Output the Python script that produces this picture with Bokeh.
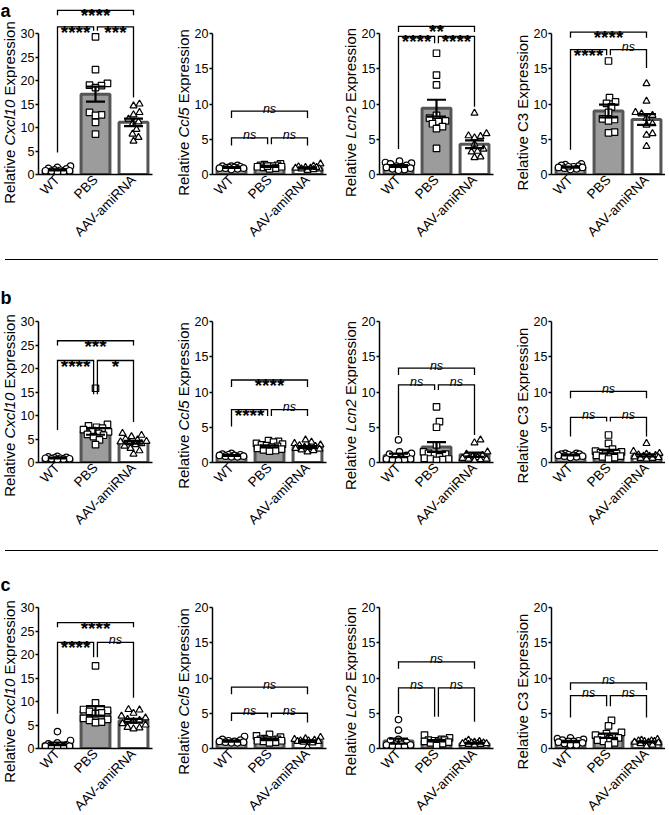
import math
from bokeh.plotting import figure
from bokeh.models import ColumnDataSource, FactorRange, Range1d, FixedTicker, Div
from bokeh.layouts import column, row
from bokeh.embed import file_html
from bokeh.resources import INLINE
from bokeh.core.properties import value

# ---------------- data ----------------
groups = ["WT", "PBS", "AAV-amiRNA"]
row_letters = ["a", "b", "c"]
genes = ["Cxcl10", "Ccl5", "Lcn2", "C3"]
gene_italic = [True, True, True, False]
axis_max = [30, 20, 20, 20]

# row a
a_cxcl10_wt = [1.8, 1.5, 1.3, 1.2, 1.0, 0.9, 0.8, 0.8, 0.7, 0.6, 0.5]
a_cxcl10_pbs = [29.3, 22.3, 19.4, 19.0, 18.9, 18.5, 13.2, 12.7, 12.6, 11.1, 8.6]
a_cxcl10_aav = [15.0, 14.6, 13.2, 12.7, 11.8, 11.2, 10.7, 9.6, 8.6, 7.9, 7.1]
a_cxcl10_mean = [1.0, 17.1, 11.1]
a_cxcl10_sem = [0.12, 1.6, 0.8]
a_cxcl10_sig = [(0, 2, 34.9, 33.9, 33.9, "****"), (0, 1, 31.4, 4.7, 30.6, "****"), (1, 2, 31.4, 30.6, 16.4, "***")]

a_ccl5_wt = [1.3, 1.2, 1.2, 1.1, 1.0, 1.0, 0.9, 0.9, 0.8, 0.7, 0.9]
a_ccl5_pbs = [1.5, 1.4, 1.3, 1.3, 1.2, 1.1, 1.1, 1.0, 0.9, 0.8, 1.2]
a_ccl5_aav = [1.5, 1.2, 1.1, 1.0, 0.9, 0.9, 0.8, 0.8, 0.7, 0.6, 1.0]
a_ccl5_mean = [1.0, 1.15, 0.92]
a_ccl5_sem = [0.06, 0.07, 0.08]
a_ccl5_sig = [(0, 2, 9.0, 8.0, 8.0, "ns"), (0, 1, 5.2, 4.1, 4.3, "ns"), (1, 2, 5.2, 4.3, 4.1, "ns")]

a_lcn2_wt = [1.9, 1.7, 1.6, 1.5, 1.3, 1.2, 1.1, 1.0, 0.9, 0.8, 0.7, 0.6]
a_lcn2_pbs = [17.2, 14.1, 12.7, 8.4, 8.0, 7.6, 7.5, 7.2, 6.8, 6.5, 3.7]
a_lcn2_aav = [8.7, 5.8, 5.5, 5.4, 5.2, 4.3, 3.6, 3.3, 3.2, 2.5, 2.4]
a_lcn2_mean = [1.2, 9.4, 4.3]
a_lcn2_sem = [0.12, 1.2, 0.55]
a_lcn2_sig = [(0, 2, 21.0, 20.2, 20.2, "**"), (0, 1, 19.6, 3.6, 18.6, "****"), (1, 2, 19.6, 18.6, 9.6, "****")]

a_c3_wt = [1.5, 1.4, 1.3, 1.2, 1.1, 1.0, 1.0, 0.9, 0.8, 0.7, 1.1]
a_c3_pbs = [16.1, 10.9, 10.3, 10.1, 9.6, 8.8, 7.9, 7.8, 7.6, 6.0, 5.9]
a_c3_aav = [12.9, 10.4, 8.8, 8.6, 8.4, 8.0, 7.2, 7.0, 5.8, 5.6, 4.0]
a_c3_mean = [1.05, 9.0, 7.8]
a_c3_sem = [0.08, 0.9, 0.75]
a_c3_sig = [(0, 2, 20.2, 19.4, 19.4, "****"), (0, 1, 17.7, 3.5, 16.9, "****"), (1, 2, 17.7, 16.9, 15.1, "ns")]

# row b
b_cxcl10_wt = [1.3, 1.2, 1.1, 1.0, 0.9, 0.9, 0.8, 0.8, 0.7, 0.6]
b_cxcl10_pbs = [15.8, 8.1, 7.8, 7.5, 7.3, 7.0, 6.8, 6.5, 6.2, 6.0, 5.8, 5.5, 4.8, 3.8]
b_cxcl10_aav = [6.2, 5.8, 5.5, 5.0, 4.8, 4.5, 4.4, 4.2, 4.0, 3.8, 3.5, 3.0, 2.5, 1.8]
b_cxcl10_mean = [0.95, 6.6, 4.3]
b_cxcl10_sem = [0.08, 0.7, 0.3]
b_cxcl10_sig = [(0, 2, 25.9, 24.9, 24.9, "***"), (0, 1, 21.7, 6.9, 14.5, "****"), (1, 2, 21.7, 14.5, 8.6, "*")]

b_ccl5_wt = [1.3, 1.2, 1.1, 1.1, 1.0, 1.0, 0.9, 0.9, 0.8, 0.8]
b_ccl5_pbs = [3.1, 3.0, 2.9, 2.7, 2.6, 2.5, 2.4, 2.3, 2.2, 2.0, 1.9, 1.8, 1.7, 1.6]
b_ccl5_aav = [3.2, 2.9, 2.7, 2.5, 2.4, 2.3, 2.2, 2.1, 2.0, 1.9, 1.8, 1.7, 1.5]
b_ccl5_mean = [1.0, 2.3, 2.2]
b_ccl5_sem = [0.05, 0.15, 0.12]
b_ccl5_sig = [(0, 2, 11.7, 10.7, 10.7, "****"), (0, 1, 7.5, 5.1, 6.6, "****"), (1, 2, 7.5, 6.6, 6.6, "ns")]

b_lcn2_wt = [3.2, 1.5, 1.3, 1.2, 1.0, 0.8, 0.6, 0.5, 0.5, 0.4, 0.4, 0.3]
b_lcn2_pbs = [7.9, 5.8, 5.0, 2.5, 1.5, 1.3, 1.2, 1.0, 0.8, 0.6, 0.5, 0.5, 0.4, 0.3]
b_lcn2_aav = [3.2, 2.8, 1.5, 1.2, 1.0, 0.8, 0.7, 0.6, 0.5, 0.5, 0.4, 0.3]
b_lcn2_mean = [1.0, 2.2, 1.1]
b_lcn2_sem = [0.25, 0.7, 0.3]
b_lcn2_sig = [(0, 2, 13.4, 12.4, 12.4, "ns"), (0, 1, 11.0, 3.9, 10.3, "ns"), (1, 2, 11.0, 10.3, 3.9, "ns")]

b_c3_wt = [1.3, 1.3, 1.2, 1.2, 1.1, 1.0, 1.0, 0.9, 0.9, 0.8, 0.7]
b_c3_pbs = [3.9, 2.7, 1.9, 1.6, 1.5, 1.4, 1.3, 1.2, 1.1, 1.0, 0.9, 0.8, 0.7, 0.5]
b_c3_aav = [2.7, 1.6, 1.3, 1.2, 1.1, 1.0, 0.9, 0.9, 0.8, 0.7, 0.6, 0.6, 0.5]
b_c3_mean = [1.05, 1.55, 1.0]
b_c3_sem = [0.06, 0.25, 0.15]
b_c3_sig = [(0, 2, 10.1, 9.1, 9.1, "ns"), (0, 1, 6.4, 3.7, 5.8, "ns"), (1, 2, 6.4, 5.8, 3.7, "ns")]

# row c
c_cxcl10_wt = [3.6, 1.7, 1.2, 1.0, 0.8, 0.6, 0.6, 0.5, 0.5, 0.4, 0.4, 0.3]
c_cxcl10_pbs = [17.6, 9.7, 8.3, 8.1, 7.9, 7.6, 7.4, 6.4, 6.2, 6.0, 5.6, 5.5]
c_cxcl10_aav = [8.3, 8.2, 7.5, 6.9, 6.5, 6.2, 6.0, 5.8, 5.3, 5.0, 4.5, 4.4, 4.2]
c_cxcl10_mean = [1.0, 8.0, 5.9]
c_cxcl10_sem = [0.28, 1.0, 0.4]
c_cxcl10_sig = [(0, 2, 26.8, 25.8, 25.8, "****"), (0, 1, 22.6, 7.4, 19.4, "****"), (1, 2, 22.6, 19.4, 10.8, "ns")]

c_ccl5_wt = [1.7, 1.3, 1.2, 1.1, 1.0, 1.0, 0.9, 0.9, 0.8, 0.8]
c_ccl5_pbs = [2.0, 1.8, 1.6, 1.4, 1.3, 1.3, 1.2, 1.2, 1.1, 1.1, 1.0, 0.9, 0.8]
c_ccl5_aav = [1.6, 1.4, 1.3, 1.2, 1.1, 1.1, 1.0, 1.0, 0.9, 0.8, 0.2]
c_ccl5_mean = [1.05, 1.3, 1.05]
c_ccl5_sem = [0.08, 0.1, 0.1]
c_ccl5_sig = [(0, 2, 8.7, 7.7, 7.7, "ns"), (0, 1, 5.0, 3.9, 4.4, "ns"), (1, 2, 5.0, 4.4, 3.7, "ns")]

c_lcn2_wt = [4.1, 2.6, 1.3, 1.1, 0.9, 0.6, 0.6, 0.5, 0.5, 0.4, 0.3, 0.3]
c_lcn2_pbs = [1.9, 1.5, 1.3, 1.2, 1.2, 1.1, 1.0, 1.0, 0.9, 0.8, 0.7, 0.4]
c_lcn2_aav = [1.2, 1.0, 0.9, 0.9, 0.8, 0.8, 0.7, 0.7, 0.7, 0.6, 0.6, 0.5]
c_lcn2_mean = [1.05, 1.1, 0.75]
c_lcn2_sem = [0.35, 0.1, 0.06]
c_lcn2_sig = [(0, 2, 12.3, 11.3, 11.3, "ns"), (0, 1, 8.6, 4.9, 4.5, "ns"), (1, 2, 8.6, 4.5, 3.8, "ns")]

c_c3_wt = [1.5, 1.4, 1.3, 1.2, 1.1, 1.0, 1.0, 0.9, 0.8, 0.7, 0.5, 0.5]
c_c3_pbs = [4.0, 3.2, 2.3, 2.1, 1.9, 1.7, 1.6, 1.5, 1.4, 1.2, 1.0, 0.8, 0.5]
c_c3_aav = [1.3, 1.2, 1.1, 1.1, 1.0, 1.0, 0.9, 0.9, 0.8, 0.7, 0.5, 0.3]
c_c3_mean = [1.0, 1.8, 0.95]
c_c3_sem = [0.09, 0.3, 0.08]
c_c3_sig = [(0, 2, 9.3, 8.3, 8.3, "ns"), (0, 1, 7.5, 4.4, 6.0, "ns"), (1, 2, 7.5, 6.0, 4.4, "ns")]

# ---------------- style / geometry ----------------
FONT = "Liberation Sans"
AXIS_PX = 141          # pixel length of the y axis (0 .. axis max)
FRAME_W = 114
PANEL_LEFT = 18
ROW_GEOM = {"a": (174, 0, 80), "b": (192, 5, 83), "c": (187, 5, 71)}   # frame_h, top, bottom
COL_GEOM = [(17, 18), (21, 12), (20, 16), (21, 0)]                     # label strip width, right border
LETTER_DROP = {"a": 0, "b": 17, "c": 13}
BAR_FILLS = ["#a6a6a6", "#9c9c9c", "#ffffff"]
BAR_LINE = "#555555"
MARKERS = ["circle", "square", "triangle"]

ARIAL_W = {'R': .722, 'e': .556, 'l': .222, 'a': .556, 't': .278, 'i': .222, 'v': .5, ' ': .278,
           'C': .722, 'x': .5, 'c': .5, '1': .556, '0': .556, '5': .556, 'L': .556, 'n': .556,
           '2': .556, '3': .556, 'E': .667, 'p': .556, 'r': .333, 's': .5, 'o': .556}
YL_SIZE = 15.0
YL_CENTER = 62


def text_w(s):
    return sum(ARIAL_W.get(ch, 0.55) for ch in s) * YL_SIZE


def swarm(vals, ppu_y, ppu_x, d=6.0, half=13.0):
    order = sorted(range(len(vals)), key=lambda i: vals[i])
    cands = [0.0]
    for k in range(1, int(half) + 1):
        cands += [float(k), float(-k)]
    placed, res = [], [0.0] * len(vals)
    for i in order:
        y = vals[i] * ppu_y
        best, best_gap = 0.0, -1.0
        for c in cands:
            gap = min((math.hypot(c - px, y - py) for px, py in placed), default=1e9)
            if gap >= d:
                best = c
                break
            if gap > best_gap:
                best_gap, best = gap, c
        placed.append((best, y))
        res[i] = best / ppu_x
    return res


def make_label_strip(letter, ci):
    frame_h, btop, bbot = ROW_GEOM[letter]
    H = frame_h + btop + bbot
    W = COL_GEOM[ci][0]
    p = figure(width=W, height=H, x_range=Range1d(0, W), y_range=Range1d(0, H),
               frame_width=W, frame_height=H, min_border_left=0, min_border_right=0,
               min_border_top=0, min_border_bottom=0, x_axis_type=None, y_axis_type=None,
               output_backend="svg", toolbar_location=None, tools="")
    p.xgrid.visible = False
    p.ygrid.visible = False
    p.outline_line_color = None
    gene = genes[ci]
    full = "Relative " + gene + " Expression"
    start = bbot + YL_CENTER - text_w(full) / 2
    segs = ["Relative", gene, "Expression"]
    styles = ["normal", "italic" if gene_italic[ci] else "normal", "normal"]
    pos = [0.0, text_w("Relative "), text_w("Relative " + gene + " ")]
    for s, st, o in zip(segs, styles, pos):
        p.text([W - 8.5], [start + o + text_w(s) / 2], text=[s], angle=math.pi / 2,
               text_align="center", text_baseline="middle", text_font=value(FONT),
               text_font_size=f"{YL_SIZE}px", text_font_style=st, text_color="black")
    if ci == 0:
        p.text([0], [H - LETTER_DROP[letter]], text=[letter], text_align="left", text_baseline="top",
               text_font=value(FONT), text_font_size="18px", text_font_style="bold", text_color="black")
    return p


def make_panel(letter, ci):
    key = f"{letter}_{genes[ci].lower()}"
    g = globals()
    pts = [g[key + "_wt"], g[key + "_pbs"], g[key + "_aav"]]
    mean, sem, sig = g[key + "_mean"], g[key + "_sem"], g[key + "_sig"]
    frame_h, btop, bbot = ROW_GEOM[letter]
    ymax = axis_max[ci]
    ppu = AXIS_PX / ymax
    br = COL_GEOM[ci][1]
    p = figure(x_range=FactorRange(*groups), y_range=Range1d(0, frame_h / ppu),
               frame_width=FRAME_W, frame_height=frame_h,
               min_border_left=PANEL_LEFT, min_border_right=br, min_border_top=btop, min_border_bottom=bbot,
               output_backend="svg", toolbar_location=None, tools="")
    p.xgrid.visible = False
    p.ygrid.visible = False
    p.outline_line_color = None

    ya = p.yaxis[0]
    ya.ticker = FixedTicker(ticks=list(range(0, ymax + 1, 5)))
    ya.bounds = (0, ymax)
    ya.major_tick_out = 3
    ya.major_tick_in = 0
    ya.minor_tick_out = 0
    ya.minor_tick_in = 0
    ya.axis_line_width = 1.5
    ya.major_tick_line_width = 1.5
    ya.major_label_text_font = FONT
    ya.major_label_text_font_size = "12.5px"
    ya.major_label_text_color = "black"
    ya.major_label_standoff = 1

    xa = p.xaxis[0]
    xa.major_label_orientation = math.pi / 4
    xa.major_tick_out = 0
    xa.major_tick_in = 0
    xa.axis_line_width = 1.5
    xa.major_label_text_font = FONT
    xa.major_label_text_font_size = "13.5px"
    xa.major_label_text_color = "black"
    xa.major_label_standoff = 3

    # bars (mean)
    p.vbar(x="x", top="top", width=0.76, fill_color="fill", line_color=BAR_LINE, line_width=3,
           source=ColumnDataSource(dict(x=groups, top=mean, fill=BAR_FILLS)))

    # individual points
    ppu_x = FRAME_W / 3.0
    for gi in range(3):
        offs = swarm(pts[gi], ppu, ppu_x)
        xs = [gi + 0.5 + o for o in offs]
        p.scatter(xs, pts[gi], marker=MARKERS[gi], size=6.5 if gi < 2 else 7,
                  fill_color="white", line_color="black", line_width=1.2)

    # mean +- SEM error bars
    cx = [gi + 0.5 for gi in range(3)]
    lo = [m - s for m, s in zip(mean, sem)]
    hi = [m + s for m, s in zip(mean, sem)]
    cw = 0.25
    p.segment(cx, lo, cx, hi, line_color="black", line_width=2.2)
    p.segment([c - cw for c in cx], hi, [c + cw for c in cx], hi, line_color="black", line_width=2.2)
    p.segment([c - cw for c in cx], lo, [c + cw for c in cx], lo, line_color="black", line_width=2.2)

    # significance brackets
    gap = 0.05
    bx, by = [], []
    tx_s, ty_s, tt_s, tx_n, ty_n, tt_n = [], [], [], [], [], []
    for (i, j, yb, yl, yr, lab) in sig:
        xl = i + 0.5 + (gap if i == 1 else 0)
        xr = j + 0.5 - (gap if j == 1 else 0)
        bx.append([xl, xl, xr, xr])
        by.append([yl, yb, yb, yr])
        if lab == "ns":
            tx_n.append((xl + xr) / 2); ty_n.append(yb); tt_n.append(lab)
        else:
            tx_s.append((xl + xr) / 2); ty_s.append(yb); tt_s.append(lab)
    p.multi_line(bx, by, line_color="black", line_width=1.3, line_join="miter")
    if tt_s:
        p.text(tx_s, ty_s, text=tt_s, text_font=value(FONT), text_font_size="19px",
               text_font_style="bold", text_align="center", text_baseline="alphabetic",
               y_offset=5.5, text_color="black")
    if tt_n:
        p.text(tx_n, ty_n, text=tt_n, text_font=value(FONT), text_font_size="12.5px",
               text_font_style="italic", text_align="center", text_baseline="alphabetic",
               y_offset=-2.5, text_color="black")
    return p


rows = []
for li, letter in enumerate(row_letters):
    kids = []
    for ci in range(4):
        kids.append(make_label_strip(letter, ci))
        kids.append(make_panel(letter, ci))
    rows.append(row(*kids))
    if li < 2:
        rows.append(Div(text="", width=653, height=1, styles={"background-color": "black"}))

layout = column(*rows)
open("out.html", "w").write(file_html(layout, INLINE))
